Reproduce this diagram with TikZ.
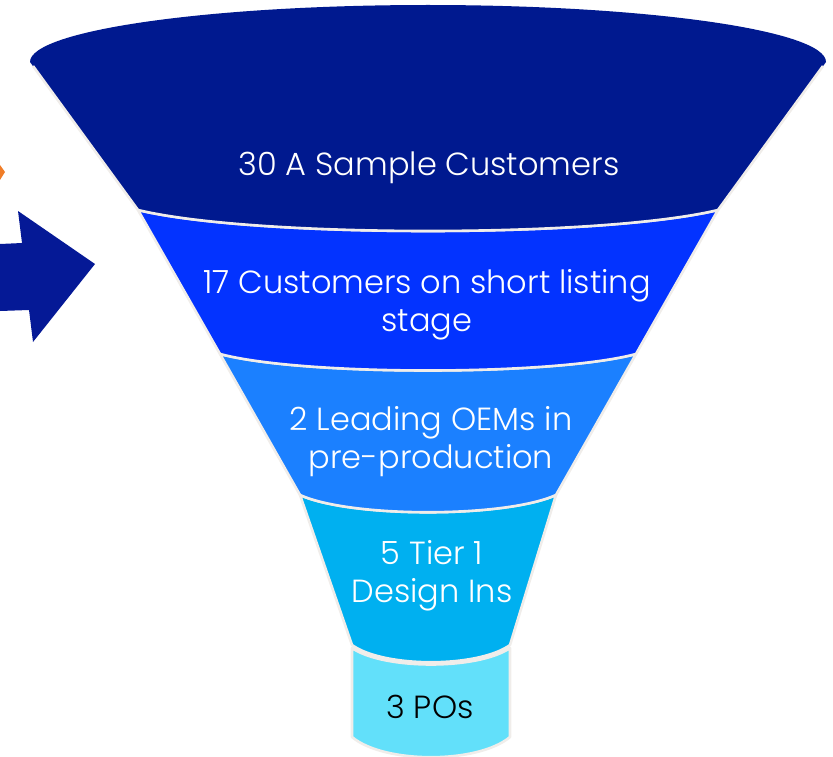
\documentclass[tikz,border=0pt]{standalone}
\usepackage{fontspec}
\setmainfont{Poppins}[UprightFont=* Light]
\definecolor{navy}{RGB}{0,25,143}
\definecolor{royal}{RGB}{3,51,255}
\definecolor{azure}{RGB}{27,128,255}
\definecolor{sky}{RGB}{0,176,240}
\definecolor{pale}{RGB}{98,224,250}
\definecolor{arrowblue}{RGB}{5,25,150}
\definecolor{accent}{RGB}{240,125,40}
\definecolor{rim}{RGB}{240,237,234}
\begin{document}
\begin{tikzpicture}[x=1pt,y=-1pt,
  edge/.style={draw=rim,line width=2.6pt,line join=round},
  stagetext/.style={text=white,font=\fontsize{32}{38}\selectfont,align=center,inner sep=0pt},
  lasttext/.style={text=black,font=\fontsize{32}{38}\selectfont,align=center,inner sep=0pt}]
\useasboundingbox (0,0) rectangle (833,757);

% side marks on the left
\fill[accent] (0,165) -- (5,172) -- (0,180) -- cycle;
\fill[arrowblue] (0,244) -- (22,243) -- (18,211) -- (95,264) -- (33,342) -- (29,310) -- (0,311) -- cycle;

% funnel stages, drawn from the bottom up so each one overlaps the next
\path[fill=pale,edge] (352,648) .. controls (384,670) and (478,670) .. (510,648)
  -- (510,737) .. controls (478,764) and (384,764) .. (352,737) -- cycle;
\path[fill=sky,edge] (300,495) .. controls (351,518) and (505,518) .. (556,495)
  -- (510,645) .. controls (478,668) and (384,668) .. (352,645) -- cycle;
\path[fill=azure,edge] (220,354) .. controls (303,376) and (553,376) .. (636,354)
  -- (556,495) .. controls (505,518) and (351,518) .. (300,495) -- cycle;
\path[fill=royal,edge] (138,210) .. controls (254,238) and (602,238) .. (718,210)
  -- (636,354) .. controls (553,376) and (303,376) .. (220,354) -- cycle;
\fill[navy] (30,62) arc[start angle=180,end angle=360,x radius=398,y radius=57]
  -- (718,210) .. controls (602,238) and (254,238) .. (138,210) -- cycle;
\draw[edge] (33,66) -- (138,210) .. controls (254,238) and (602,238) .. (718,210) -- (823,66);

% stage labels
\node[stagetext] (s1) at (429,168) {30 A Sample Customers};
\node[stagetext] (s2) at (427,305) {17 Customers on short listing\\stage};
\node[stagetext] (s3) at (431,442) {2 Leading OEMs in\\pre-production};
\node[stagetext] (s4) at (432,576) {5 Tier 1\\Design Ins};
\node[lasttext] (s5) at (430,707) {3 POs};
\end{tikzpicture}
\end{document}
